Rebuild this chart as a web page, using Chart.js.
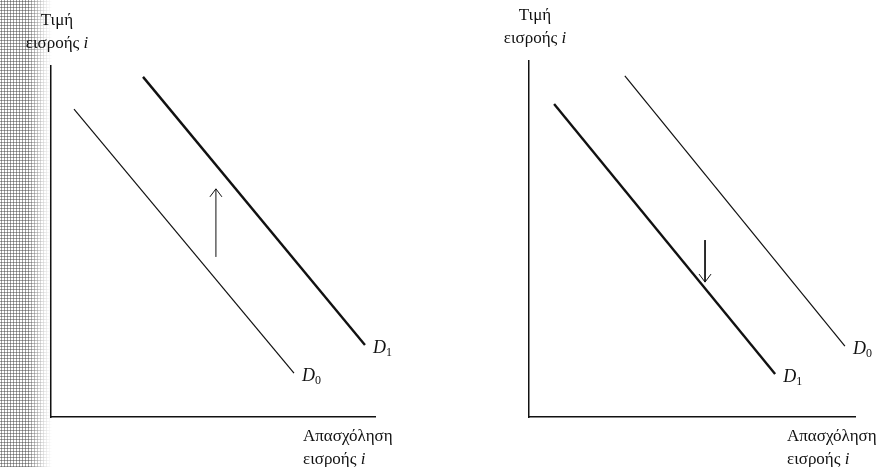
<!DOCTYPE html>
<html>
<head>
<meta charset="utf-8">
<script src="https://cdn.jsdelivr.net/npm/chart.js@4.4.1/dist/chart.umd.min.js"></script>
<style>
  html, body { margin: 0; padding: 0; background: #fff; }
  #wrap { position: relative; width: 895px; height: 467px; overflow: hidden; background: #fff; }
  /* scanned page edge */
  #edge {
    position: absolute; left: 0; top: 0; width: 52px; height: 467px;
    background-image: radial-gradient(circle, #444 0.9px, transparent 1.2px);
    background-size: 3px 3px;
    -webkit-mask-image: linear-gradient(to right, #000 55%, rgba(0,0,0,0.25) 85%, transparent);
    mask-image: linear-gradient(to right, #000 55%, rgba(0,0,0,0.25) 85%, transparent);
    opacity: 0.75;
  }
  canvas { position: absolute; top: 0; }
</style>
</head>
<body>
<div id="wrap">
  <div id="edge"></div>
  <canvas id="left" width="447" height="467" style="left:0"></canvas>
  <canvas id="right" width="448" height="467" style="left:447px"></canvas>
</div>
<script>
// Demand curves, endpoints in axis units (0-100 on both axes)
const leftD0 = [{ x: 7.1, y: 87.7 }, { x: 75.0, y: 12.5 }]
const leftD1 = [{ x: 28.4, y: 96.9 }, { x: 96.9, y: 20.5 }]
const leftShift = [{ x: 50.9, y: 45.6 }, { x: 50.9, y: 65.0 }]   // arrow up

const rightD1 = [{ x: 7.7, y: 87.9 }, { x: 75.5, y: 12.1 }]
const rightD0 = [{ x: 29.4, y: 95.8 }, { x: 96.9, y: 19.9 }]
const rightShift = [{ x: 54.0, y: 49.7 }, { x: 54.0, y: 37.9 }]  // arrow down

// Axis titles
const yTitle = ['Τιμή', 'εισροής ']
const xTitle = ['Απασχόληση', 'εισροής ']
const italicSuffix = 'i'

const SERIF = '"Liberation Serif", "DejaVu Serif", serif'
const TITLE_SIZE = '17px '

function drawParts(ctx, x, y, parts, align) {
  // parts: [{ text, font, dy }]
  let total = 0
  parts.forEach((p) => {
    ctx.font = p.font
    p.w = ctx.measureText(p.text).width
    total += p.w
  })
  let cx = align === 'center' ? x - total / 2 : x
  ctx.textAlign = 'left'
  ctx.textBaseline = 'middle'
  parts.forEach((p) => {
    ctx.font = p.font
    ctx.fillText(p.text, cx, y + (p.dy || 0))
    cx += p.w
  })
}

const annotate = {
  id: 'annotate',
  afterDatasetsDraw(chart) {
    const { ctx, chartArea } = chart
    ctx.save()
    ctx.fillStyle = '#111'
    ctx.strokeStyle = '#111'

    chart.data.datasets.forEach((ds, i) => {
      const pts = chart.getDatasetMeta(i).data
      const end = pts[pts.length - 1]
      if (ds.arrow) {
        // open arrow head at the last point
        const dir = pts[1].y < pts[0].y ? 1 : -1
        ctx.lineWidth = 1
        ctx.beginPath()
        ctx.moveTo(end.x - 6, end.y + dir * 8)
        ctx.lineTo(end.x, end.y)
        ctx.lineTo(end.x + 6, end.y + dir * 8)
        ctx.stroke()
      } else {
        // curve name, D with subscript
        const sub = ds.label.slice(1)
        drawParts(ctx, end.x + 8, end.y + 3, [
          { text: 'D', font: 'italic 18px ' + SERIF },
          { text: sub, font: '12px ' + SERIF, dy: 5 }
        ], 'left')
      }
    })

    const ax = chartArea.left + 6
    drawParts(ctx, ax, chartArea.top - 45, [{ text: yTitle[0], font: TITLE_SIZE + SERIF }], 'center')
    drawParts(ctx, ax, chartArea.top - 22, [
      { text: yTitle[1], font: TITLE_SIZE + SERIF },
      { text: italicSuffix, font: 'italic ' + TITLE_SIZE + SERIF }
    ], 'center')

    const bx = chart.options.xTitleLeft
    drawParts(ctx, bx, chartArea.bottom + 20, [{ text: xTitle[0], font: TITLE_SIZE + SERIF }], 'left')
    drawParts(ctx, bx, chartArea.bottom + 43, [
      { text: xTitle[1], font: TITLE_SIZE + SERIF },
      { text: italicSuffix, font: 'italic ' + TITLE_SIZE + SERIF }
    ], 'left')
    ctx.restore()
  }
}

function curve(label, data, width) {
  return {
    label,
    data,
    borderColor: '#111',
    borderWidth: width,
    pointRadius: 0,
    showLine: true,
    tension: 0
  }
}

function makeChart(el, datasets, padding, xTitleLeft) {
  const axis = {
    type: 'linear',
    min: 0,
    max: 100,
    ticks: { display: false },
    grid: { display: false, drawTicks: false },
    border: { display: true, color: '#111', width: 1.5 }
  }
  return new Chart(document.getElementById(el), {
    type: 'scatter',
    data: { datasets },
    options: {
      responsive: false,
      animation: false,
      devicePixelRatio: 1,
      xTitleLeft,
      layout: { padding },
      scales: { x: { ...axis }, y: { ...axis } },
      plugins: { legend: { display: false }, tooltip: { enabled: false } }
    },
    plugins: [annotate]
  })
}

makeChart('left', [
  curve('D0', leftD0, 1.2),
  curve('D1', leftD1, 2.4),
  { ...curve('', leftShift, 1), arrow: true }
], { left: 51, top: 66, right: 72, bottom: 50 }, 303)

makeChart('right', [
  curve('D1', rightD1, 2.4),
  curve('D0', rightD0, 1.2),
  { ...curve('', rightShift, 1), arrow: true }
], { left: 82, top: 61, right: 40, bottom: 50 }, 340)
</script>
</body>
</html>
